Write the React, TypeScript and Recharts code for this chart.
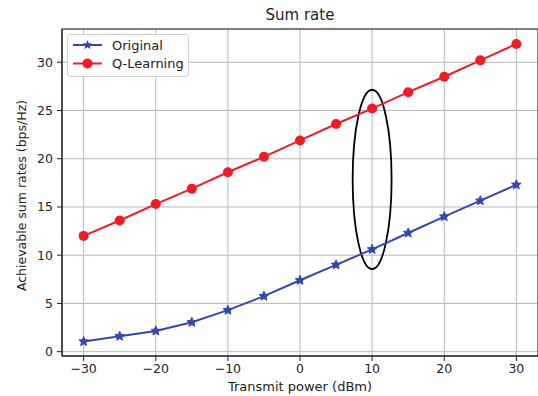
import React from 'react';
import {
  LineChart,
  Line,
  XAxis,
  YAxis,
  CartesianGrid,
  ReferenceArea
} from 'recharts';

const powers = [-30, -25, -20, -15, -10, -5, 0, 5, 10, 15, 20, 25, 30];
const original = [1.05, 1.6, 2.15, 3.05, 4.3, 5.75, 7.4, 9.0, 10.6, 12.3, 14.0, 15.65, 17.3];
const qLearning = [12.0, 13.6, 15.3, 16.9, 18.6, 20.2, 21.9, 23.6, 25.2, 26.9, 28.5, 30.2, 31.9];
const xTicks = [-30, -20, -10, 0, 10, 20, 30];
const yTicks = [0, 5, 10, 15, 20, 25, 30];

const BLUE = '#3548a8';
const RED = '#ee1c25';
const FONT = '"DejaVu Sans", sans-serif';

const data = powers.map((p, i) => ({ p, original: original[i], q: qLearning[i] }));

const fmt = (v: number) => String(v).replace('-', '\u2212');

const starPoints = (cx: number, cy: number, r: number) => {
  const pts: string[] = [];
  for (let i = 0; i < 10; i++) {
    const rad = i % 2 === 0 ? r : r * 0.45;
    const a = -Math.PI / 2 + (i * Math.PI) / 5;
    pts.push(`${cx + rad * Math.cos(a)},${cy + rad * Math.sin(a)}`);
  }
  return pts.join(' ');
};

const StarDot = (props: any) => {
  const { cx, cy } = props;
  if (cx == null || cy == null) return null;
  return <polygon points={starPoints(cx, cy, 5)} fill={BLUE} stroke={BLUE} strokeWidth={1} />;
};

const Ellipse = (props: any) => {
  const { x, y, width, height } = props;
  return (
    <ellipse
      cx={x + width / 2}
      cy={y + height / 2}
      rx={width / 2}
      ry={height / 2}
      fill="none"
      stroke="#000"
      strokeWidth={1.8}
    />
  );
};

const LegendBox = () => (
  <div
    style={{
      position: 'absolute',
      left: 67,
      top: 34,
      width: 122,
      height: 43,
      border: '1px solid #d0d0d0',
      borderRadius: 3,
      background: 'rgba(255,255,255,0.85)',
      boxSizing: 'border-box'
    }}
  >
    <svg width={120} height={41} style={{ display: 'block' }}>
      <line x1={5} x2={34} y1={10} y2={10} stroke={BLUE} strokeWidth={2} />
      <polygon points={starPoints(19.5, 10, 5)} fill={BLUE} />
      <text x={44} y={14.5} fontSize={13} fill="#222" fontFamily={FONT}>Original</text>
      <line x1={5} x2={34} y1={28.5} y2={28.5} stroke={RED} strokeWidth={2} />
      <circle cx={19.5} cy={28.5} r={5} fill={RED} />
      <text x={44} y={33} fontSize={13} fill="#222" fontFamily={FONT}>Q-Learning</text>
    </svg>
  </div>
);

export default function App() {
  return (
    <div style={{ position: 'absolute', left: 0, top: 0, width: 538, height: 396, background: '#fff' }}>
      <LineChart
        width={538}
        height={396}
        data={data}
        margin={{ top: 29, right: 0, bottom: 0, left: 12 }}
        style={{ fontFamily: FONT }}
      >
        <text x={300} y={20} textAnchor="middle" fontSize={15} fill="#222" fontFamily={FONT}>
          Sum rate
        </text>
        <CartesianGrid stroke="#b8b8b8" strokeWidth={1} />
        <XAxis
          dataKey="p"
          type="number"
          domain={[-33, 33]}
          ticks={xTicks}
          tickFormatter={fmt}
          allowDataOverflow
          height={40}
          tickSize={5}
          tickMargin={3}
          stroke="#222"
          tick={{ fill: '#222', fontSize: 12.5, fontFamily: FONT }}
          label={{ value: 'Transmit power (dBm)', position: 'insideBottom', offset: 5, fill: '#222', fontSize: 13, fontFamily: FONT }}
        />
        <YAxis
          type="number"
          domain={[-0.45, 33.45]}
          ticks={yTicks}
          allowDataOverflow
          width={50}
          tickSize={5}
          tickMargin={4}
          stroke="#222"
          tick={{ fill: '#222', fontSize: 12.5, fontFamily: FONT }}
          label={{ value: 'Achievable sum rates (bps/Hz)', angle: -90, position: 'insideLeft', offset: 0, dx: 10, dy: 3, style: { textAnchor: 'middle' }, fill: '#222', fontSize: 12.5, fontFamily: FONT }}
        />
        <Line
          dataKey="original"
          stroke={BLUE}
          strokeWidth={2}
          dot={<StarDot />}
          activeDot={false}
          isAnimationActive={false}
        />
        <Line
          dataKey="q"
          stroke={RED}
          strokeWidth={2}
          dot={{ r: 5, fill: RED, stroke: RED, strokeWidth: 0 }}
          activeDot={false}
          isAnimationActive={false}
        />
        <ReferenceArea x1={7.3} x2={12.7} y1={8.55} y2={27.15} shape={<Ellipse />} ifOverflow="visible" />
        <rect x={62} y={29} width={476} height={327} fill="none" stroke="#222" strokeWidth={1} />
      </LineChart>
      <LegendBox />
    </div>
  );
}
